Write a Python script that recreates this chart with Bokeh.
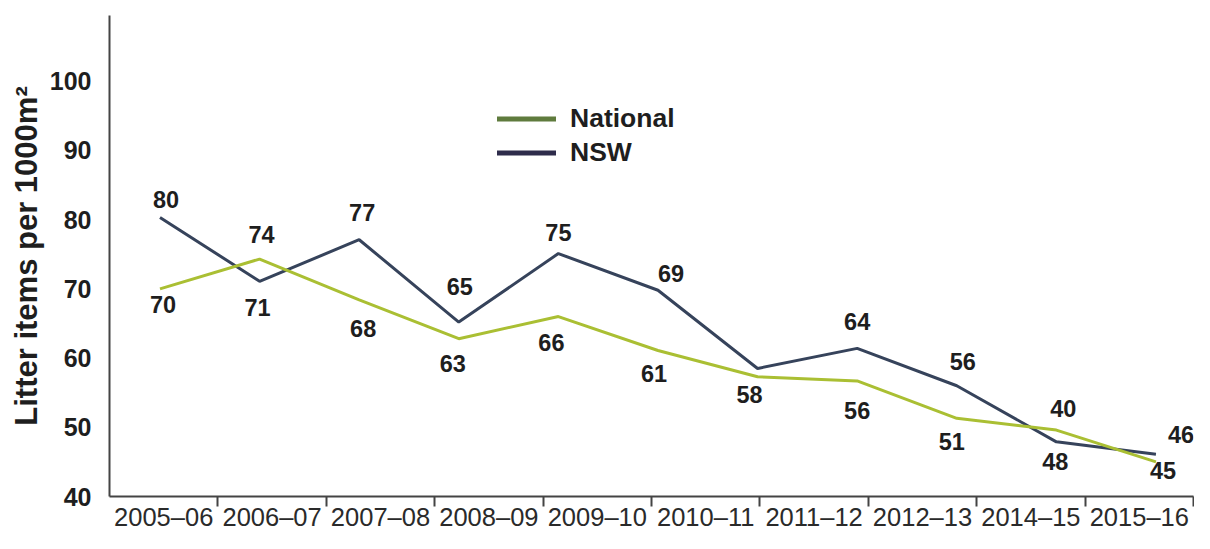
from bokeh.plotting import figure
from bokeh.models import Range1d, FixedTicker, Legend, LegendItem
from bokeh.core.properties import value
from bokeh.embed import file_html
from bokeh.resources import INLINE

# ---- data ----
periods = ["2005–06", "2006–07", "2007–08", "2008–09", "2009–10",
           "2010–11", "2011–12", "2012–13", "2014–15", "2015–16"]
survey_index = [0, 1, 2, 3, 4, 5, 6, 7, 8, 9, 10]
nsw = [80.3, 71.1, 77.1, 65.2, 75.1, 69.8, 58.5, 61.4, 56.0, 47.9, 46.1]
national = [70.0, 74.3, 68.4, 62.8, 66.0, 61.1, 57.3, 56.7, 51.3, 49.6, 45.0]
nsw_labels = ["80", "71", "77", "65", "75", "69", "", "64", "56", "48", "46"]
national_labels = ["70", "74", "68", "63", "66", "61", "58", "56", "51", "40", "45"]
y_ticks = [40, 50, 60, 70, 80, 90, 100]

# label placement (screen px offsets from each point)
nsw_dx = [6, -2, 3, 1, 0, 13, 0, 0, 6, -1, 25]
nsw_dy = [-18, 26, -27, -36, -21, -17, 0, -27, -24, 20, -20]
nat_dx = [3, 2, 4, -6, -7, -4, -8, 0, -5, 7, 7]
nat_dy = [16, -25, 29, 25, 26, 23, 18, 30, 23, -22, 9]

FONT = "Liberation Sans"
AXIS_COL = "#444444"
TEXT_COL = "#1e1e1e"

p = figure(width=1194, height=533, output_backend="svg", toolbar_location=None,
           x_range=Range1d(0, len(periods)), y_range=Range1d(40, 109.5),
           min_border_left=109, min_border_right=1, min_border_top=15,
           min_border_bottom=30)
p.extra_x_ranges = {"pts": Range1d(-0.507, 10.377)}
p.outline_line_color = None
p.grid.visible = False
p.background_fill_color = "white"
p.border_fill_color = "white"

# x axis: labels centred in bands, tick marks at band boundaries
centers = [i + 0.5 for i in range(len(periods))]
bounds = [i + 1 for i in range(len(periods))]
xa = p.xaxis[0]
xa.ticker = FixedTicker(ticks=centers, minor_ticks=bounds)
xa.major_label_overrides = {c: lab for c, lab in zip(centers, periods)}
xa.major_tick_line_color = None
xa.major_tick_out = 0
xa.major_tick_in = 0
xa.minor_tick_out = 10
xa.minor_tick_in = 0
xa.minor_tick_line_color = AXIS_COL
xa.minor_tick_line_width = 2
xa.axis_line_color = AXIS_COL
xa.axis_line_width = 2
xa.major_label_standoff = -4
xa.major_label_text_font = FONT
xa.major_label_text_font_size = "25.5px"
xa.major_label_text_color = "#2a2a2a"

ya = p.yaxis[0]
ya.ticker = FixedTicker(ticks=y_ticks, minor_ticks=[])
ya.major_tick_line_color = None
ya.major_tick_out = 0
ya.major_tick_in = 0
ya.minor_tick_line_color = None
ya.axis_line_color = AXIS_COL
ya.axis_line_width = 2
ya.major_label_standoff = 18
ya.major_label_text_font = FONT
ya.major_label_text_font_style = "bold"
ya.major_label_text_font_size = "25px"
ya.major_label_text_color = TEXT_COL
ya.axis_label = "Litter items per 1000m²"
ya.axis_label_text_font = FONT
ya.axis_label_text_font_style = "bold"
ya.axis_label_text_font_size = "31px"
ya.axis_label_text_color = TEXT_COL
ya.axis_label_standoff = 3

# lines
p.line(x=survey_index, y=nsw, x_range_name="pts", line_color="#36435b", line_width=3)
p.line(x=survey_index, y=national, x_range_name="pts", line_color="#aabf33", line_width=3)

# data labels
common = dict(x_range_name="pts", text_align="center", text_baseline="middle",
              text_font=value(FONT), text_font_style="bold", text_font_size="23.5px",
              text_color=TEXT_COL)
p.text(x=survey_index, y=nsw, text=nsw_labels, x_offset=nsw_dx, y_offset=nsw_dy, **common)
p.text(x=survey_index, y=national, text=national_labels, x_offset=nat_dx, y_offset=nat_dy, **common)

# legend (legend swatches use their own colours; their data is empty)
nan = float("nan")
r_nat = p.line(x=[nan], y=[nan], line_color="#5f7b3d", line_width=5, line_cap="round")
r_nsw = p.line(x=[nan], y=[nan], line_color="#2e2c4b", line_width=5, line_cap="round")
legend = Legend(items=[LegendItem(label="National", renderers=[r_nat]),
                       LegendItem(label="NSW", renderers=[r_nsw])],
                location=(388, 328), orientation="vertical",
                glyph_width=59, glyph_height=29, label_height=29,
                label_standoff=14, spacing=3, padding=0, margin=0,
                background_fill_alpha=0, border_line_color=None,
                label_text_font=FONT, label_text_font_style="bold",
                label_text_font_size="26.5px", label_text_color=TEXT_COL)
p.add_layout(legend)

open("out.html", "w").write(file_html(p, INLINE))
